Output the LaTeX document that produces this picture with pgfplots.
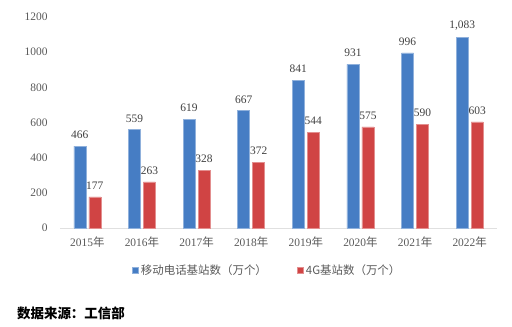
\documentclass[border=0pt]{standalone}
\usepackage{pgfplots}
\pgfplotsset{compat=1.18}
\usepackage{fontspec}
\setmainfont{Liberation Serif}
\newfontfamily\cjk{Noto Sans CJK SC}
\definecolor{cblue}{RGB}{70,125,196}
\definecolor{cred}{RGB}{208,68,68}
\definecolor{tgray}{RGB}{89,89,89}
\definecolor{lgray}{RGB}{64,64,64}
\begin{document}
\begin{tikzpicture}[x=1bp,y=1bp]
\path[use as bounding box] (0,0) rectangle (512,326);
\begin{axis}[
  at={(60bp,98bp)}, anchor=south west,
  scale only axis, width=437bp, height=211bp,
  xmin=-0.5, xmax=7.5, ymin=0, ymax=1200,
  ybar=3bp, bar width=12bp,
  axis y line=none, axis x line*=bottom,
  axis line style={draw=black!12, line width=1bp},
  x axis line style={-},
  xtick=data,
  xticklabels={2015{\cjk 年},2016{\cjk 年},2017{\cjk 年},2018{\cjk 年},2019{\cjk 年},2020{\cjk 年},2021{\cjk 年},2022{\cjk 年}},
  xtick style={draw=none},
  x tick label style={font=\fontsize{11.5}{13}\selectfont, text=tgray, yshift=-1bp},
  ytick={0,200,...,1200},
  clip=false,
  /pgf/number format/assume math mode=true,
  nodes near coords,
  nodes near coords style={font=\fontsize{11.5}{13}\selectfont, text=lgray, anchor=south, yshift=4bp, /pgf/number format/1000 sep={,}},
  legend style={at={(0.474,-0.199)}, anchor=center, draw=none, fill=none,
    font=\cjk\fontsize{11.5}{13}\selectfont, text=tgray, legend columns=2,
    /tikz/every even column/.append style={column sep=28bp}},
  legend image code/.code={\fill[#1] (0bp,-3.2bp) rectangle (6.5bp,3.2bp);},
]
\addplot[draw=cblue!60!white, fill=cblue, line width=0.5bp] coordinates {(0,466) (1,559) (2,619) (3,667) (4,841) (5,931) (6,996) (7,1083)};
\addplot[draw=cred!60!white, fill=cred, line width=0.5bp] coordinates {(0,177) (1,263) (2,328) (3,372) (4,544) (5,575) (6,590) (7,603)};
\legend{移动电话基站数（万个）, 4G基站数（万个）}
\pgfplotsinvokeforeach{0,200,400,600,800,1000,1200}{
  \node[anchor=east, font=\fontsize{11.5}{13}\selectfont, text=tgray] at (axis cs:-0.5,#1) [xshift=-9bp] {#1};
}
\end{axis}
\node[anchor=west, font=\cjk\bfseries\fontsize{13.5}{16}\selectfont, inner sep=0pt] at (17bp,13bp) {数据来源：工信部};
\end{tikzpicture}
\end{document}
